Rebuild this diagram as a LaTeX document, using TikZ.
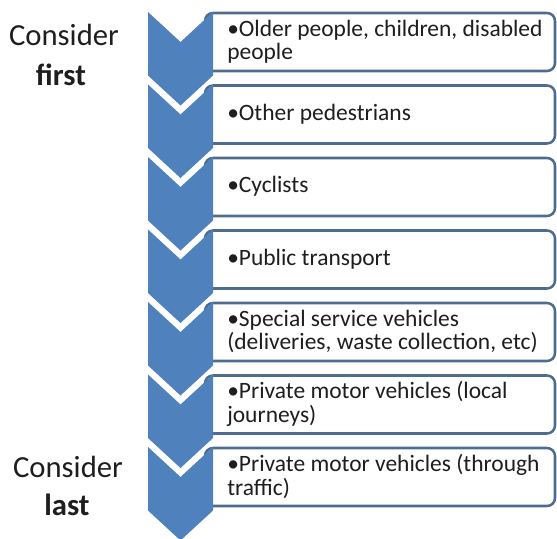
\documentclass[tikz,border=0pt]{standalone}
\usepackage{fontspec}
\setmainfont{Carlito}
\definecolor{chev}{RGB}{79,129,189}
\definecolor{boxline}{RGB}{78,108,142}
\definecolor{ink}{RGB}{30,30,30}
\tikzset{
  listbox/.style={draw=boxline, line width=1.9pt, fill=white, rounded corners=6pt,
    minimum width=262.5pt, minimum height=43.5pt, inner sep=0pt},
  itemtext/.style={anchor=west, align=left, text=ink, inner sep=0pt,
    font=\fontsize{17.6}{17.4}\selectfont},
  sidetext/.style={text=ink, inner sep=0pt, anchor=base, font=\fontsize{23}{27}\selectfont},
  chevfill/.style={fill=chev}
}
\begin{document}
\begin{tikzpicture}[x=0.75pt,y=-0.75pt]
\useasboundingbox (0,0) rectangle (557,539);
\foreach \i/\txt in {0/{\textbullet Older people, children, disabled\\people},
  1/{\textbullet Other pedestrians},
  2/{\textbullet Cyclists},
  3/{\textbullet Public transport},
  4/{\textbullet Special service vehicles\\(deliveries, waste collection, etc)},
  5/{\textbullet Private motor vehicles (local\\journeys)},
  6/{\textbullet Private motor vehicles (through\\traffic)}} {
  \pgfmathsetmacro\t{12+72.5*\i}
  \node[listbox] (b\i) at (380,\t+30) {};
  \fill[chevfill] (148,\t) -- (180.5,\t+30) -- (213,\t) -- (213,\t+63.5)
     -- (180.5,\t+93.5) -- (148,\t+63.5) -- cycle;
  \node[itemtext] (t\i) at (227,\t+29.5) {\txt};
}
\node[sidetext] (c1) at (64,45) {Consider};
\node[sidetext, font=\fontsize{23}{27}\selectfont\bfseries] (f1) at (61,85) {first};
\node[sidetext] (c2) at (68,477) {Consider};
\node[sidetext, font=\fontsize{23}{27}\selectfont\bfseries] (l2) at (67,515) {last};
\end{tikzpicture}
\end{document}
